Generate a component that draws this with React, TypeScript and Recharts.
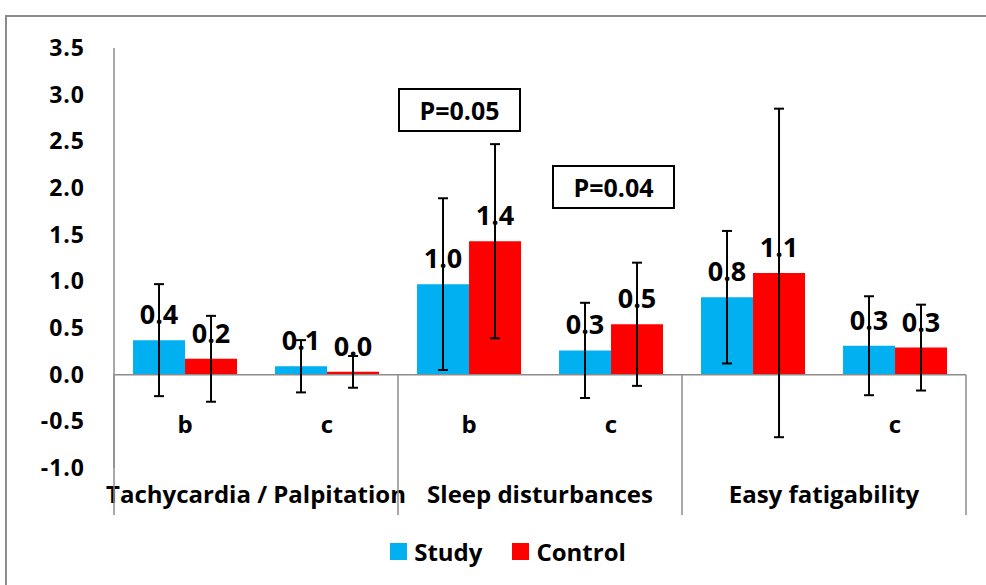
import React from 'react';
import { BarChart, Bar, XAxis, YAxis, ErrorBar, LabelList, Legend, ReferenceLine } from 'recharts';

// sub-level labels and group names of the two-level category axis
const subLabels = ['b', 'c', 'b', 'c', '', 'c'];
const groupNames = ['Tachycardia / Palpitation', '', 'Sleep disturbances', '', 'Easy fatigability', ''];

const studyMeans = [0.37, 0.09, 0.97, 0.26, 0.83, 0.31];
const studySD = [0.6, 0.28, 0.92, 0.51, 0.71, 0.53];
const controlMeans = [0.17, 0.03, 1.43, 0.54, 1.09, 0.29];
const controlSD = [0.46, 0.17, 1.04, 0.66, 1.76, 0.46];

const yTicks = [-1, -0.5, 0, 0.5, 1, 1.5, 2, 2.5, 3, 3.5];

const data = subLabels.map((sub, i) => ({
  sub,
  group: groupNames[i],
  study: studyMeans[i],
  studyErr: studySD[i],
  control: controlMeans[i],
  controlErr: controlSD[i],
}));

const FONT = '"Open Sans", Calibri, sans-serif';
const W = 986;
const H = 585;
const TOP = 48;
const LEFT = 114;
const RIGHT = 20;
const PLOT_BOTTOM = 468;
const PLOT_H = PLOT_BOTTOM - TOP;
const ZERO_Y = TOP + (3.5 / 4.5) * PLOT_H;
const SLOT = (W - LEFT - RIGHT) / data.length;
const AXIS_GREY = '#8c8c8c';

const CategoryTick = (props: any) => {
  const { x, index, payload } = props;
  const half = SLOT / 2;
  return (
    <g>
      <text x={x} y={423} textAnchor="middle" dominantBaseline="central"
        fontFamily={FONT} fontWeight="bold" fontSize={24} fill="#000">
        {payload.value}
      </text>
      {index % 2 === 0 && (
        <text x={x + half} y={493} textAnchor="middle" dominantBaseline="central"
          fontFamily={FONT} fontWeight="bold" fontSize={24} fill="#000">
          {groupNames[index]}
        </text>
      )}
      {index === 0 && (
        <line x1={x - half} x2={x - half} y1={ZERO_Y} y2={515} stroke={AXIS_GREY} strokeWidth={1.5} />
      )}
      {index % 2 === 1 && (
        <line x1={x + half} x2={x + half} y1={ZERO_Y} y2={515} stroke={AXIS_GREY} strokeWidth={1.5} />
      )}
    </g>
  );
};

const LegendContent = () => (
  <div style={{ display: 'flex', justifyContent: 'center', gap: 30, paddingLeft: 50, fontFamily: FONT, fontWeight: 'bold', fontSize: 24 }}>
    <span style={{ display: 'flex', alignItems: 'center' }}>
      <span style={{ width: 17, height: 17, background: '#00B0F0', marginRight: 7 }} />Study
    </span>
    <span style={{ display: 'flex', alignItems: 'center' }}>
      <span style={{ width: 17, height: 17, background: '#FF0000', marginRight: 7 }} />Control
    </span>
  </div>
);

const PBox = ({ left, top, text }: { left: number; top: number; text: string }) => (
  <div style={{
    position: 'absolute', left, top, width: 123, height: 44, border: '2px solid #000',
    background: '#fff', display: 'flex', alignItems: 'center', justifyContent: 'center',
    fontFamily: FONT, fontWeight: 'bold', fontSize: 25, boxSizing: 'border-box',
  }}>
    {text}
  </div>
);

export default function App() {
  return (
    <div style={{ position: 'absolute', left: 0, top: 0, width: W, height: H, overflow: 'hidden', background: '#fff' }}>
      <div style={{ position: 'absolute', left: 5, top: 15, width: 1100, height: 700, border: '2px solid #8c8c8c' }} />
      <BarChart width={W} height={H} data={data}
        margin={{ top: TOP, right: RIGHT, left: 0, bottom: 0 }}
        barGap={0} barCategoryGap="13.4%">
        <YAxis domain={[-1, 3.5]} ticks={yTicks} width={LEFT} interval={0}
          tickFormatter={(v: number) => v.toFixed(1)}
          axisLine={{ stroke: AXIS_GREY, strokeWidth: 1.5 }} tickLine={false} tickSize={6} tickMargin={23}
          tick={{ fontFamily: FONT, fontWeight: 'bold', fontSize: 23, fill: '#000', letterSpacing: 1 }} />
        <XAxis dataKey="sub" interval={0} height={H - PLOT_BOTTOM - 50}
          axisLine={false} tickLine={false} tick={<CategoryTick />} />
        <ReferenceLine y={0} stroke={AXIS_GREY} strokeWidth={1.5} />
        <Legend verticalAlign="bottom" height={50} content={<LegendContent />} />
        <Bar dataKey="study" name="Study" fill="#00B0F0" isAnimationActive={false}>
          <ErrorBar dataKey="studyErr" width={5} stroke="#000" strokeWidth={2} />
          <LabelList dataKey="study" position="top" offset={16}
            formatter={(v: any) => Number(v).toFixed(1)}
            style={{ fontFamily: FONT, fontWeight: 'bold', fontSize: 27, fill: '#000' }} />
        </Bar>
        <Bar dataKey="control" name="Control" fill="#FF0000" isAnimationActive={false}>
          <ErrorBar dataKey="controlErr" width={5} stroke="#000" strokeWidth={2} />
          <LabelList dataKey="control" position="top" offset={16}
            formatter={(v: any) => Number(v).toFixed(1)}
            style={{ fontFamily: FONT, fontWeight: 'bold', fontSize: 27, fill: '#000' }} />
        </Bar>
      </BarChart>
      <PBox left={398} top={88} text="P=0.05" />
      <PBox left={552} top={165} text="P=0.04" />
    </div>
  );
}
